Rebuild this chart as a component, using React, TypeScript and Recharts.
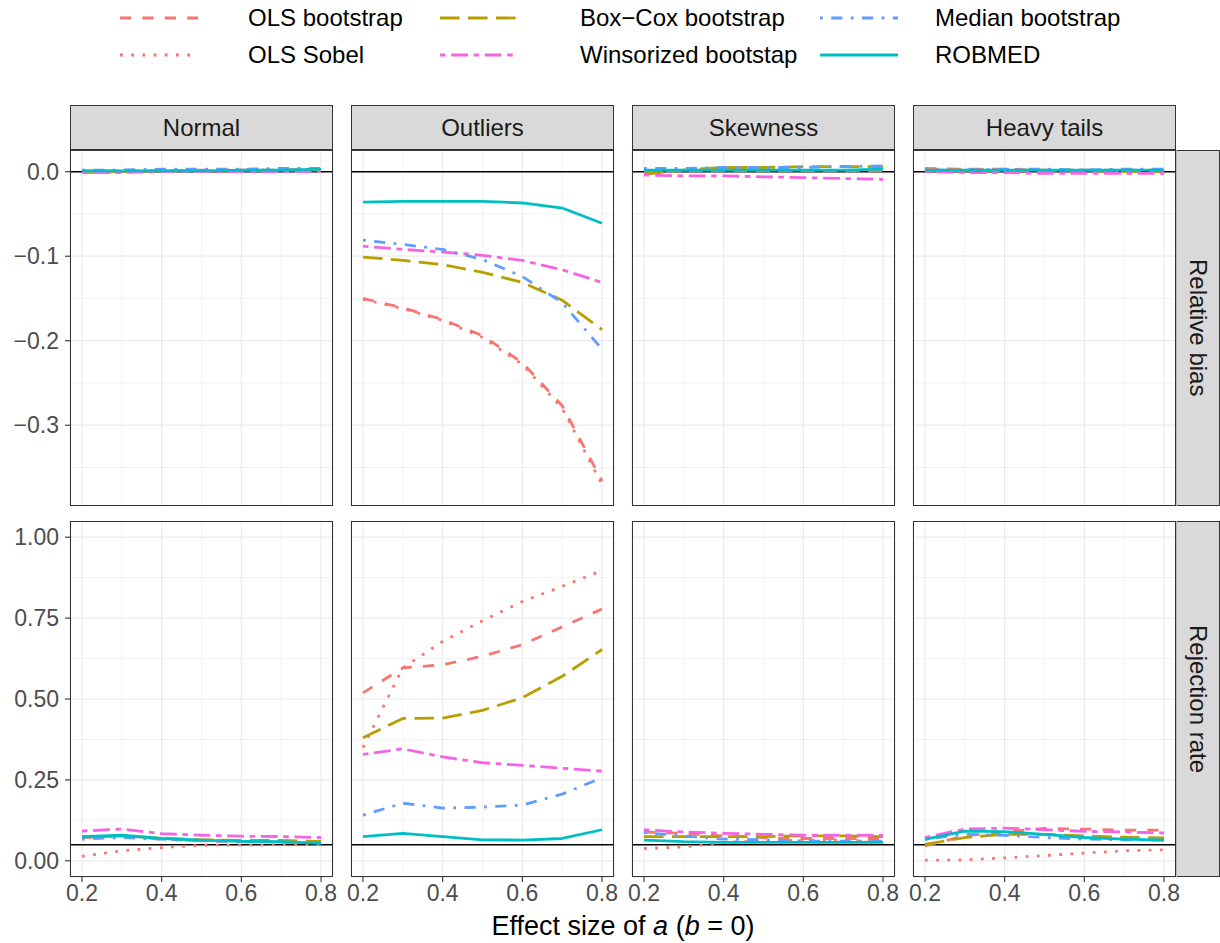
import React from 'react';
import { LineChart, Line, XAxis, YAxis, CartesianGrid, ReferenceLine } from 'recharts';

// effect size of a on the x axis
const effectSizes = [0.2, 0.3, 0.4, 0.5, 0.6, 0.7, 0.8];

const methods = ['OLS bootstrap', 'OLS Sobel', 'Box\u2212Cox bootstrap', 'Winsorized bootstap', 'Median bootstrap', 'ROBMED'];
const methodColors = ['#F8766D', '#F8766D', '#B79F00', '#F564E3', '#619CFF', '#00BFC4'];

const facets = ['Normal', 'Outliers', 'Skewness', 'Heavy tails'];
const measures = ['Relative bias', 'Rejection rate'];

// rows follow the order of `methods`
const biasNormal = [
  [0.001, 0.001, 0.001, 0.002, 0.002, 0.002, 0.003],
  [0.001, 0.001, 0.001, 0.002, 0.002, 0.002, 0.003],
  [-0.001, 0.000, 0.001, 0.001, 0.001, 0.002, 0.002],
  [-0.001, -0.001, 0.000, 0.000, 0.000, 0.000, 0.000],
  [0.002, 0.002, 0.003, 0.003, 0.003, 0.004, 0.004],
  [0.001, 0.001, 0.001, 0.001, 0.002, 0.002, 0.003],
];
const biasOutliers = [
  [-0.150, -0.161, -0.175, -0.194, -0.226, -0.277, -0.366],
  [-0.151, -0.162, -0.176, -0.196, -0.228, -0.280, -0.370],
  [-0.101, -0.105, -0.110, -0.119, -0.131, -0.152, -0.187],
  [-0.088, -0.092, -0.095, -0.099, -0.105, -0.116, -0.131],
  [-0.081, -0.086, -0.092, -0.104, -0.124, -0.155, -0.210],
  [-0.036, -0.035, -0.035, -0.035, -0.037, -0.043, -0.061],
];
const biasSkewness = [
  [0.001, 0.001, 0.001, 0.001, 0.001, 0.001, 0.001],
  [0.000, 0.001, 0.001, 0.001, 0.001, 0.001, 0.001],
  [-0.003, 0.002, 0.005, 0.005, 0.006, 0.006, 0.006],
  [-0.004, -0.005, -0.005, -0.006, -0.007, -0.008, -0.009],
  [0.004, 0.004, 0.005, 0.005, 0.005, 0.006, 0.007],
  [0.002, 0.002, 0.002, 0.002, 0.002, 0.002, 0.003],
];
const biasHeavy = [
  [0.004, 0.003, 0.003, 0.002, 0.002, 0.002, 0.002],
  [0.003, 0.003, 0.002, 0.002, 0.002, 0.001, 0.001],
  [0.001, 0.001, 0.001, 0.001, 0.001, 0.000, 0.000],
  [0.000, -0.001, -0.001, -0.002, -0.002, -0.002, -0.002],
  [0.002, 0.002, 0.003, 0.003, 0.002, 0.003, 0.003],
  [0.002, 0.002, 0.002, 0.002, 0.002, 0.002, 0.002],
];

const rejNormal = [
  [0.072, 0.077, 0.067, 0.062, 0.060, 0.058, 0.056],
  [0.014, 0.031, 0.041, 0.048, 0.049, 0.050, 0.050],
  [0.074, 0.077, 0.070, 0.065, 0.063, 0.063, 0.060],
  [0.092, 0.098, 0.084, 0.079, 0.076, 0.075, 0.072],
  [0.067, 0.072, 0.067, 0.062, 0.060, 0.058, 0.056],
  [0.075, 0.079, 0.069, 0.064, 0.060, 0.059, 0.054],
];
const rejOutliers = [
  [0.519, 0.596, 0.606, 0.632, 0.668, 0.723, 0.778],
  [0.350, 0.596, 0.678, 0.742, 0.801, 0.848, 0.897],
  [0.380, 0.440, 0.441, 0.465, 0.504, 0.570, 0.653],
  [0.329, 0.346, 0.321, 0.303, 0.295, 0.286, 0.277],
  [0.141, 0.178, 0.163, 0.166, 0.172, 0.206, 0.257],
  [0.075, 0.085, 0.075, 0.065, 0.064, 0.069, 0.096],
];
const rejSkewness = [
  [0.089, 0.085, 0.077, 0.072, 0.069, 0.069, 0.069],
  [0.038, 0.043, 0.057, 0.062, 0.064, 0.064, 0.059],
  [0.075, 0.075, 0.075, 0.075, 0.077, 0.077, 0.075],
  [0.096, 0.089, 0.085, 0.082, 0.079, 0.079, 0.079],
  [0.087, 0.077, 0.067, 0.065, 0.061, 0.061, 0.061],
  [0.064, 0.059, 0.057, 0.057, 0.057, 0.057, 0.057],
];
const rejHeavy = [
  [0.046, 0.077, 0.089, 0.100, 0.098, 0.095, 0.095],
  [0.002, 0.003, 0.009, 0.016, 0.024, 0.031, 0.034],
  [0.051, 0.072, 0.082, 0.082, 0.077, 0.073, 0.071],
  [0.072, 0.098, 0.101, 0.096, 0.091, 0.089, 0.086],
  [0.067, 0.082, 0.079, 0.072, 0.067, 0.065, 0.064],
  [0.066, 0.092, 0.090, 0.082, 0.072, 0.067, 0.064],
];

const panelValues = [
  [biasNormal, biasOutliers, biasSkewness, biasHeavy],
  [rejNormal, rejOutliers, rejSkewness, rejHeavy],
];

const xTicks = [0.2, 0.4, 0.6, 0.8];
const xMinorTicks = [0.3, 0.5, 0.7];
const biasTicks = [-0.3, -0.2, -0.1, 0];
const biasMinorTicks = [-0.35, -0.25, -0.15, -0.05];
const rejTicks = [0, 0.25, 0.5, 0.75, 1];
const rejMinorTicks = [0.125, 0.375, 0.625, 0.875];
const refLevels = [0, 0.05];

// layout
const PANEL_LEFT = 70;
const PANEL_STEP = 281;
const PANEL_W = 263;
const PANEL_H = 356;
const PANEL_TOP = [150, 521];
const STRIP_TOP = 105;
const STRIP_H = 45;
const Y_AXIS_W = 70;
const X_AXIS_H = 34;
const PAD = 24; // room so edge tick labels are not clipped
const LW = 2.8;
const FONT = '"Liberation Sans", Arial, Helvetica, sans-serif';

const dashes = [
  `${4 * LW} ${4 * LW}`,
  `${1 * LW} ${3 * LW}`,
  `${7 * LW} ${3 * LW}`,
  `${2 * LW} ${2 * LW} ${6 * LW} ${2 * LW}`,
  `${1 * LW} ${3 * LW} ${4 * LW} ${3 * LW}`,
  undefined,
];

const yDomains: [number, number][] = [[-0.3956, 0.0257], [-0.05, 1.05]];

const fmtBias = (v: number) => (v < 0 ? '\u2212' + Math.abs(v).toFixed(1) : v.toFixed(1));
const fmtRej = (v: number) => v.toFixed(2);

const tickStyle = { fill: '#4D4D4D', fontSize: 23, fontFamily: FONT };

function Panel({ row, col }: { row: number; col: number }) {
  const values = panelValues[row][col];
  const data = effectSizes.map((a, i) => {
    const d: Record<string, number> = { a };
    methods.forEach((_, m) => { d['m' + m] = values[m][i]; });
    return d;
  });
  const showY = col === 0;
  const showX = row === 1;
  const left = PANEL_LEFT + col * PANEL_STEP;
  const top = PANEL_TOP[row];
  const yW = showY ? Y_AXIS_W : 0;

  return (
    <>
      <div style={{ position: 'absolute', left: left - yW - PAD, top }}>
        <LineChart
          width={PANEL_W + yW + 2 * PAD}
          height={PANEL_H + (showX ? X_AXIS_H : 0)}
          data={data}
          margin={{ top: 0, right: PAD, bottom: 0, left: PAD }}
        >
          <XAxis
            type="number" dataKey="a" domain={[0.17, 0.83]} ticks={xTicks} allowDataOverflow interval={0}
            hide={!showX} height={X_AXIS_H} axisLine={false}
            tickLine={{ stroke: '#333333', strokeWidth: 1.1 }} tickSize={5} tickMargin={3}
            tick={tickStyle} tickFormatter={(v: number) => v.toFixed(1)}
          />
          <XAxis xAxisId="minor" type="number" dataKey="a" domain={[0.17, 0.83]} ticks={xMinorTicks} allowDataOverflow hide />
          <YAxis
            type="number" domain={yDomains[row]} ticks={row === 0 ? biasTicks : rejTicks} allowDataOverflow interval={0}
            hide={!showY} width={Y_AXIS_W} axisLine={false}
            tickLine={{ stroke: '#333333', strokeWidth: 1.1 }} tickSize={5} tickMargin={6}
            tick={tickStyle} tickFormatter={row === 0 ? fmtBias : fmtRej}
          />
          <YAxis yAxisId="minor" type="number" domain={yDomains[row]} ticks={row === 0 ? biasMinorTicks : rejMinorTicks} allowDataOverflow hide />
          <CartesianGrid xAxisId="minor" yAxisId="minor" stroke="#EBEBEB" strokeWidth={0.6} />
          <CartesianGrid stroke="#EBEBEB" strokeWidth={1.2} />
          <ReferenceLine y={refLevels[row]} stroke="#000000" strokeWidth={1.5} />
          {methods.map((name, m) => (
            <Line
              key={name}
              type="linear"
              dataKey={'m' + m}
              stroke={methodColors[m]}
              strokeWidth={LW}
              strokeDasharray={dashes[m]}
              strokeLinejoin="round"
              dot={false}
              activeDot={false}
              isAnimationActive={false}
            />
          ))}
        </LineChart>
      </div>
      <div style={{
        position: 'absolute', left, top, width: PANEL_W, height: PANEL_H,
        border: '1.1px solid #333333', boxSizing: 'border-box', pointerEvents: 'none',
      }} />
    </>
  );
}

const stripStyle: React.CSSProperties = {
  position: 'absolute', background: '#D9D9D9', border: '1.1px solid #333333', boxSizing: 'border-box',
  display: 'flex', alignItems: 'center', justifyContent: 'center', color: '#1A1A1A', fontSize: 24,
};

const legendKeyX = [120, 440, 820];
const legendLabelX = [248, 580, 935];
const legendRowY = [18, 55];

export default function App() {
  return (
    <div style={{
      position: 'absolute', left: 0, top: 0, width: 1220, height: 943, background: '#ffffff',
      overflow: 'hidden', fontFamily: FONT,
    }}>
      {/* legend */}
      {methods.map((name, m) => {
        const c = Math.floor(m / 2);
        const r = m % 2;
        const y = legendRowY[r];
        return (
          <React.Fragment key={name}>
            <svg style={{ position: 'absolute', left: legendKeyX[c], top: y - 10 }} width={78} height={20}>
              <line x1={0} y1={10} x2={78} y2={10} stroke={methodColors[m]} strokeWidth={LW} strokeDasharray={dashes[m]} />
            </svg>
            <div style={{ position: 'absolute', left: legendLabelX[c], top: y - 14, fontSize: 24, lineHeight: '28px', color: '#000', whiteSpace: 'nowrap' }}>
              {name}
            </div>
          </React.Fragment>
        );
      })}

      {/* column strips */}
      {facets.map((f, c) => (
        <div key={f} style={{ ...stripStyle, left: PANEL_LEFT + c * PANEL_STEP, top: STRIP_TOP, width: PANEL_W, height: STRIP_H }}>
          {f}
        </div>
      ))}

      {/* row strips */}
      {measures.map((m, r) => (
        <div key={m} style={{ ...stripStyle, left: PANEL_LEFT + 3 * PANEL_STEP + PANEL_W, top: PANEL_TOP[r], width: 44, height: PANEL_H }}>
          <span style={{ writingMode: 'vertical-rl' }}>{m}</span>
        </div>
      ))}

      {measures.map((_, r) => facets.map((__, c) => <Panel key={`${r}-${c}`} row={r} col={c} />))}

      {/* x axis title */}
      <div style={{
        position: 'absolute', left: PANEL_LEFT, width: 3 * PANEL_STEP + PANEL_W, top: 910,
        textAlign: 'center', fontSize: 27, lineHeight: '32px', color: '#000',
      }}>
        Effect size of <i>a</i> (<i>b</i> = 0)
      </div>
    </div>
  );
}
